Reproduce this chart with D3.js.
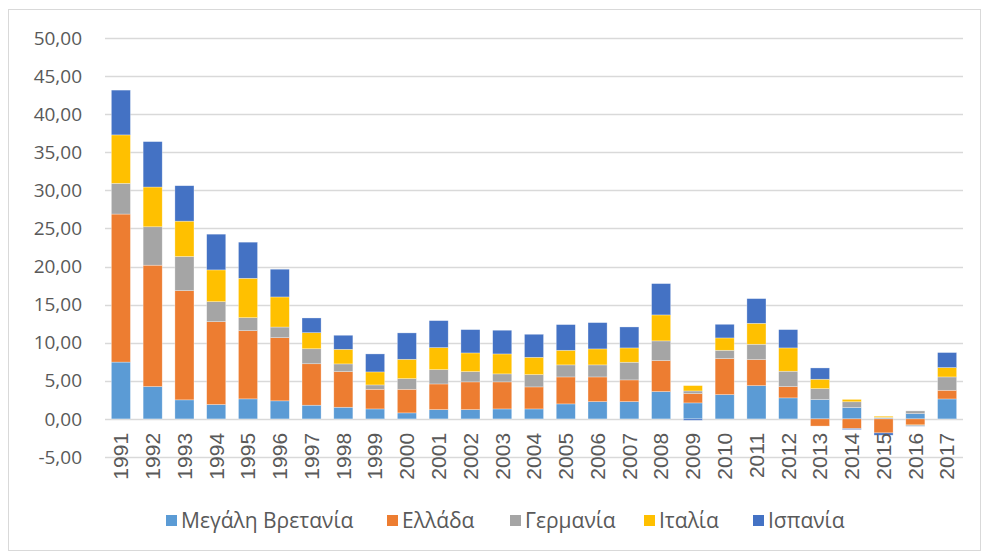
<!DOCTYPE html>
<html>
<head>
<meta charset="utf-8">
<script src="https://cdn.jsdelivr.net/npm/d3@7"></script>
<style>
  body { margin: 0; background: #fff; }
  svg text { fill: #595959; }
</style>
</head>
<body>
<svg id="chart" width="983" height="553"></svg>
<script>
const years = ['1991','1992','1993','1994','1995','1996','1997','1998','1999','2000',
  '2001','2002','2003','2004','2005','2006','2007','2008','2009','2010',
  '2011','2012','2013','2014','2015','2016','2017'];

const seriesNames = ['Μεγάλη Βρετανία', 'Ελλάδα', 'Γερμανία', 'Ιταλία', 'Ισπανία'];

const uk = [7.46, 4.25, 2.50, 1.89, 2.63, 2.37, 1.80, 1.53, 1.31, 0.79,
  1.22, 1.22, 1.31, 1.31, 1.97, 2.27, 2.27, 3.59, 2.10, 3.19,
  4.37, 2.76, 2.54, 1.49, 0.12, 0.70, 2.62];
const greece = [19.43, 15.93, 14.34, 10.87, 8.95, 8.29, 5.44, 4.68, 2.58, 3.10,
  3.37, 3.64, 3.55, 2.89, 3.54, 3.24, 2.85, 4.07, 1.22, 4.73,
  3.42, 1.48, -0.94, -1.27, -1.84, -0.79, 1.14];
const germany = [4.03, 5.04, 4.48, 2.63, 1.71, 1.40, 1.97, 1.01, 0.57, 1.40,
  1.88, 1.35, 1.05, 1.62, 1.58, 1.58, 2.32, 2.58, 0.35, 1.09,
  2.01, 2.02, 1.44, 0.76, 0.08, 0.35, 1.75];
const italy = [6.36, 5.22, 4.64, 4.17, 5.17, 3.95, 2.11, 1.92, 1.71, 2.54,
  2.89, 2.45, 2.62, 2.27, 1.92, 2.10, 1.88, 3.41, 0.70, 1.62,
  2.75, 3.06, 1.23, 0.31, 0.15, -0.08, 1.23];
const spain = [5.88, 5.96, 4.65, 4.69, 4.74, 3.64, 1.93, 1.84, 2.36, 3.46,
  3.54, 3.06, 3.11, 3.02, 3.37, 3.45, 2.75, 4.11, -0.18, 1.79,
  3.24, 2.40, 1.48, -0.13, -0.30, -0.09, 1.97];

const yTicks = [-5, 0, 5, 10, 15, 20, 25, 30, 35, 40, 45, 50];
const colors = ['#5B9BD5', '#ED7D31', '#A5A5A5', '#FFC000', '#4472C4'];

const allSeries = [uk, greece, germany, italy, spain];
const rows = years.map((yr, i) => {
  const r = { year: yr };
  seriesNames.forEach((s, k) => { r[s] = allSeries[k][i]; });
  return r;
});

const margin = { left: 105, right: 20, top: 38, bottom: 96 };
const svg = d3.select('#chart');
const W = 983, H = 553;

// chart border
svg.append('rect')
  .attr('x', 8.5).attr('y', 9.5)
  .attr('width', 972).attr('height', 541)
  .attr('fill', '#fff')
  .attr('stroke', '#D9D9D9');

const x = d3.scaleBand()
  .domain(years)
  .range([margin.left, W - margin.right])
  .paddingInner(0.4)
  .paddingOuter(0.2);

const y = d3.scaleLinear()
  .domain([-5, 50])
  .range([H - margin.bottom, margin.top]);

// gridlines
svg.append('g').selectAll('line')
  .data(yTicks)
  .enter().append('line')
  .attr('x1', margin.left)
  .attr('x2', W - margin.right)
  .attr('y1', d => Math.round(y(d)) + 0.5)
  .attr('y2', d => Math.round(y(d)) + 0.5)
  .attr('stroke', '#D9D9D9')
  .attr('stroke-width', 1.5);

// y axis labels, comma decimals and a plain hyphen for negatives
const yAxis = d3.axisLeft(y)
  .tickValues(yTicks)
  .tickSize(0)
  .tickPadding(0)
  .tickFormat(d => d.toFixed(2).replace('.', ','));
const gy = svg.append('g')
  .attr('transform', 'translate(82,0)')
  .call(yAxis);
gy.select('.domain').remove();
gy.selectAll('text')
  .style('font-family', '"Open Sans", sans-serif')
  .style('font-size', '19px')
  .attr('fill', '#595959');

// stacked bars (negatives stack downwards like Excel)
const stack = d3.stack()
  .keys(seriesNames)
  .offset(d3.stackOffsetDiverging);
const layers = stack(rows);

svg.append('g').selectAll('g')
  .data(layers)
  .enter().append('g')
  .attr('fill', (d, i) => colors[i])
  .selectAll('rect')
  .data(d => d)
  .enter().append('rect')
  .attr('x', d => x(d.data.year))
  .attr('width', x.bandwidth())
  .attr('y', d => y(Math.max(d[0], d[1])))
  .attr('height', d => Math.abs(y(d[0]) - y(d[1])))
  .attr('stroke', '#fff')
  .attr('stroke-opacity', 0.5)
  .attr('stroke-width', 0.6);

// x axis labels (rotated), placed just under the zero line
const gx = svg.append('g')
  .attr('transform', 'translate(0,' + y(0) + ')')
  .call(d3.axisBottom(x).tickSize(0).tickPadding(0));
gx.select('.domain').remove();
gx.selectAll('text')
  .attr('transform', 'rotate(-90)')
  .attr('x', -14)
  .attr('y', 0)
  .attr('dy', '0.35em')
  .style('text-anchor', 'end')
  .style('font-family', '"Liberation Sans", Arial, sans-serif')
  .style('font-size', '21px')
  .attr('fill', '#595959');

// legend
const legendX = [166, 387, 510, 644, 753];
const legend = svg.append('g').selectAll('g')
  .data(seriesNames)
  .enter().append('g')
  .attr('transform', (d, i) => 'translate(' + legendX[i] + ',521)');
legend.append('rect')
  .attr('x', 0).attr('y', -6)
  .attr('width', 11).attr('height', 11)
  .attr('fill', (d, i) => colors[i]);
legend.append('text')
  .attr('x', 15)
  .attr('dy', '0.35em')
  .style('font-family', '"Open Sans", sans-serif')
  .style('font-size', '21px')
  .attr('fill', '#595959')
  .text(d => d);
</script>
</body>
</html>
